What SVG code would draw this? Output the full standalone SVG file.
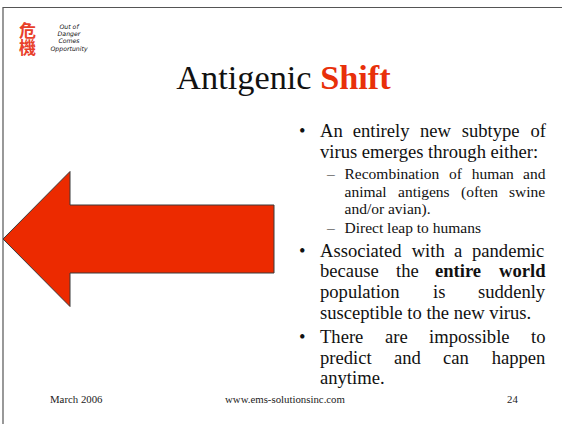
<svg xmlns="http://www.w3.org/2000/svg" width="562" height="424" viewBox="0 0 562 424">
<style>
text{font-family:"Liberation Serif","Times New Roman",serif;fill:#111}
.b{font-size:18.6px}
.s{font-size:15.5px}
.f{font-size:10.8px;fill:#222}
.m{font-family:"DejaVu Sans",sans-serif;font-size:6.2px;font-style:italic;text-anchor:middle}
.k{font-family:"Noto Sans CJK TC",sans-serif;font-size:17px;fill:#e8402a;font-weight:700;writing-mode:vertical-rl}
</style>
<rect width="562" height="424" fill="#fff"/>
<path d="M3 424V7.500H562" fill="none" stroke="#555" stroke-width="1.200"/>
<g id="logo">
<text class="k" x="27.500" y="22">危機</text>
<text class="m" x="69" y="29">Out of</text>
<text class="m" x="69" y="36">Danger</text>
<text class="m" x="69" y="43">Comes</text>
<text class="m" x="69" y="51">Opportunity</text>
</g>
<g id="title">
<text x="283.500" y="89" text-anchor="middle" style="font-size:34.3px">Antigenic <tspan style="fill:#e8300a;font-weight:700">Shift</tspan></text>
</g>
<g id="arrow">
<path d="M3 239L70 171.500V205H274V273H70V306.500Z" fill="#ec2a00" stroke="#3a3a3a" stroke-width="1"/>
</g>
<g id="bullets">
<text class="b" x="299" y="137">•</text>
<text class="b" y="137"><tspan x="320">An</tspan><tspan x="352.700">entirely</tspan><tspan x="420">new</tspan><tspan x="461.700">subtype</tspan><tspan x="530.500">of</tspan></text>
<text class="b" x="320" y="158">virus emerges through either:</text>
<text class="s" x="327" y="179">–</text>
<text class="s" y="179"><tspan x="344.500">Recombination</tspan><tspan x="449">of</tspan><tspan x="471.700">human</tspan><tspan x="523">and</tspan></text>
<text class="s" y="196.500"><tspan x="344.500">animal</tspan><tspan x="398">antigens</tspan><tspan x="461">(often</tspan><tspan x="509">swine</tspan></text>
<text class="s" x="344.500" y="213.500">and/or avian).</text>
<text class="s" x="327" y="233">–</text>
<text class="s" x="344.500" y="233">Direct leap to humans</text>
<text class="b" x="299" y="256.500">•</text>
<text class="b" y="256.500"><tspan x="320">Associated</tspan><tspan x="411.700">with</tspan><tspan x="454">a</tspan><tspan x="472">pandemic</tspan></text>
<text class="b" y="277"><tspan x="320">because</tspan><tspan x="396">the</tspan><tspan x="435" font-weight="700">entire</tspan><tspan x="499" font-weight="700">world</tspan></text>
<text class="b" y="298"><tspan x="320">population</tspan><tspan x="433">is</tspan><tspan x="478">suddenly</tspan></text>
<text class="b" x="320" y="318.500">susceptible to the new virus.</text>
<text class="b" x="299" y="343">•</text>
<text class="b" y="343"><tspan x="320">There</tspan><tspan x="385">are</tspan><tspan x="429">impossible</tspan><tspan x="531">to</tspan></text>
<text class="b" y="363.500"><tspan x="320">predict</tspan><tspan x="394">and</tspan><tspan x="443">can</tspan><tspan x="491.700">happen</tspan></text>
<text class="b" x="320" y="384">anytime.</text>
</g>
<g id="footer">
<text class="f" x="50" y="403">March 2006</text>
<text class="f" x="285" y="403" text-anchor="middle">www.ems-solutionsinc.com</text>
<text class="f" x="507" y="403">24</text>
</g>
</svg>
